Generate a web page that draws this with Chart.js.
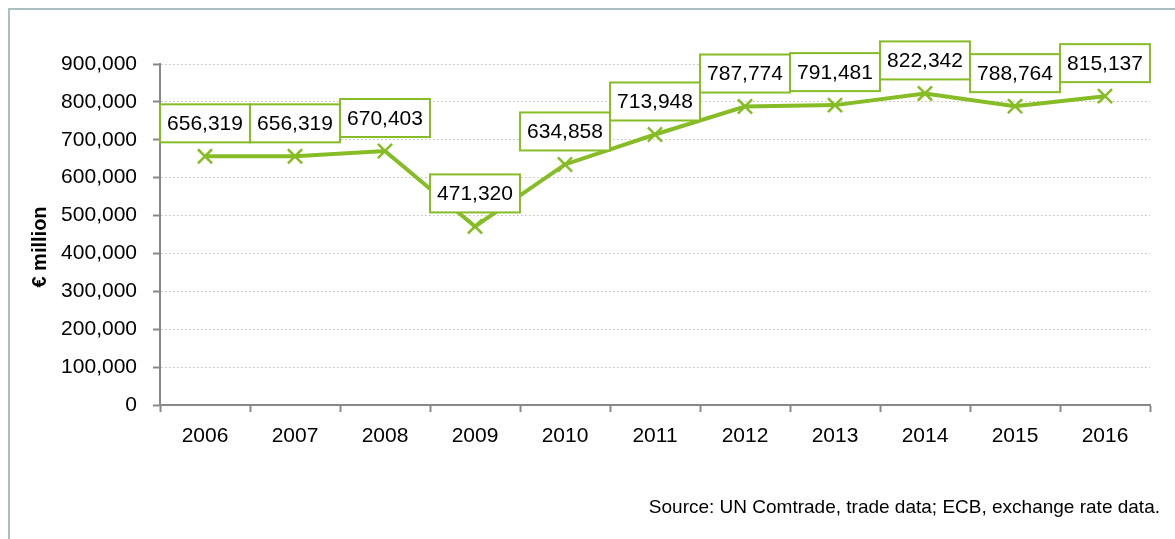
<!DOCTYPE html>
<html lang="en">
<head>
    <meta charset="UTF-8">
    <title>Trade value, € million</title>
    <script src="https://cdn.jsdelivr.net/npm/chart.js"></script>
    <style>
        body {
            margin: 0;
            background: #ffffff;
            font-family: "Liberation Sans", Arial, sans-serif;
        }
        .frame {
            position: absolute;
            left: 8px;
            top: 8px;
            width: 1175px;
            height: 539px;
            border-top: 2px solid #a9c0c0;
            border-left: 2px solid #a9c0c0;
        }
        .wrap {
            position: relative;
            width: 1175px;
            height: 539px;
        }
        canvas {
            position: absolute;
            left: 0;
            top: 0;
        }
        .source {
            position: absolute;
            right: 15px;
            top: 496px;
            font-size: 19px;
            color: #000;
        }
    </style>
</head>
<body>
<div class="wrap">
    <div class="frame"></div>
    <canvas id="tradeChart" width="1175" height="539"></canvas>
    <div class="source">Source: UN Comtrade, trade data; ECB, exchange rate data.</div>
</div>

<script>
    const years = ['2006', '2007', '2008', '2009', '2010', '2011', '2012', '2013', '2014', '2015', '2016'];
    const values = [656319, 656319, 670403, 471320, 634858, 713948, 787774, 791481, 822342, 788764, 815137];
    const yTicks = [0, 100000, 200000, 300000, 400000, 500000, 600000, 700000, 800000, 900000];

    const green = '#86bc25';
    const fmt = v => v.toLocaleString('en-US');

    // boxed value labels above each point, later boxes drawn over earlier ones
    const boxLabels = {
        id: 'boxLabels',
        afterDatasetsDraw(chart) {
            const ctx = chart.ctx;
            const meta = chart.getDatasetMeta(0);
            ctx.save();
            ctx.font = '21px "Liberation Sans", Arial, sans-serif';
            ctx.textAlign = 'center';
            ctx.textBaseline = 'middle';
            meta.data.forEach((pt, i) => {
                const txt = fmt(values[i]);
                const w = ctx.measureText(txt).width + 14;
                const h = 38;
                const x = pt.x - w / 2;
                const y = pt.y - 14 - h;
                ctx.fillStyle = '#ffffff';
                ctx.fillRect(x, y, w, h);
                ctx.strokeStyle = green;
                ctx.lineWidth = 2;
                ctx.strokeRect(x, y, w, h);
                ctx.fillStyle = '#000000';
                ctx.fillText(txt, pt.x, y + h / 2 + 1);
            });
            ctx.restore();
        }
    };

    // rotated axis title
    const yTitle = {
        id: 'yTitle',
        afterDraw(chart) {
            const ctx = chart.ctx;
            ctx.save();
            ctx.translate(40, 247);
            ctx.rotate(-Math.PI / 2);
            ctx.font = 'bold 20px "Liberation Sans", Arial, sans-serif';
            ctx.fillStyle = '#000000';
            ctx.textAlign = 'center';
            ctx.textBaseline = 'middle';
            ctx.fillText('€ million', 0, 0);
            ctx.restore();
        }
    };

    new Chart(document.getElementById('tradeChart').getContext('2d'), {
        type: 'line',
        data: {
            labels: years,
            datasets: [{
                data: values,
                borderColor: green,
                borderWidth: 4,
                pointStyle: 'crossRot',
                pointRadius: 10,
                pointBorderWidth: 2.5,
                pointBorderColor: green,
                pointBackgroundColor: green,
                tension: 0,
                fill: false
            }]
        },
        options: {
            responsive: false,
            animation: false,
            layout: { padding: { top: 64, right: 25, bottom: 0, left: 0 } },
            plugins: {
                legend: { display: false },
                tooltip: { enabled: false }
            },
            scales: {
                x: {
                    offset: true,
                    grid: {
                        offset: true,
                        drawOnChartArea: false,
                        drawTicks: true,
                        tickLength: 7,
                        tickColor: '#888888',
                        tickWidth: 2
                    },
                    border: { display: true, color: '#888888', width: 2 },
                    ticks: {
                        color: '#000000',
                        padding: 12,
                        maxRotation: 0,
                        font: { family: '"Liberation Sans", Arial, sans-serif', size: 21 }
                    },
                    afterFit(scale) { scale.height = 134; }
                },
                y: {
                    min: 0,
                    max: 900000,
                    afterBuildTicks(scale) { scale.ticks = yTicks.map(v => ({ value: v })); },
                    grid: {
                        color: '#bdbdbd',
                        lineWidth: 1,
                        tickLength: 7,
                        tickColor: '#888888',
                        tickWidth: 2
                    },
                    border: { display: true, color: '#888888', width: 2, dash: [1.5, 2.5] },
                    ticks: {
                        color: '#000000',
                        padding: 16,
                        callback: v => fmt(v),
                        font: { family: '"Liberation Sans", Arial, sans-serif', size: 21 }
                    },
                    afterFit(scale) { scale.width = 160; }
                }
            }
        },
        plugins: [boxLabels, yTitle]
    });
</script>
</body>
</html>
